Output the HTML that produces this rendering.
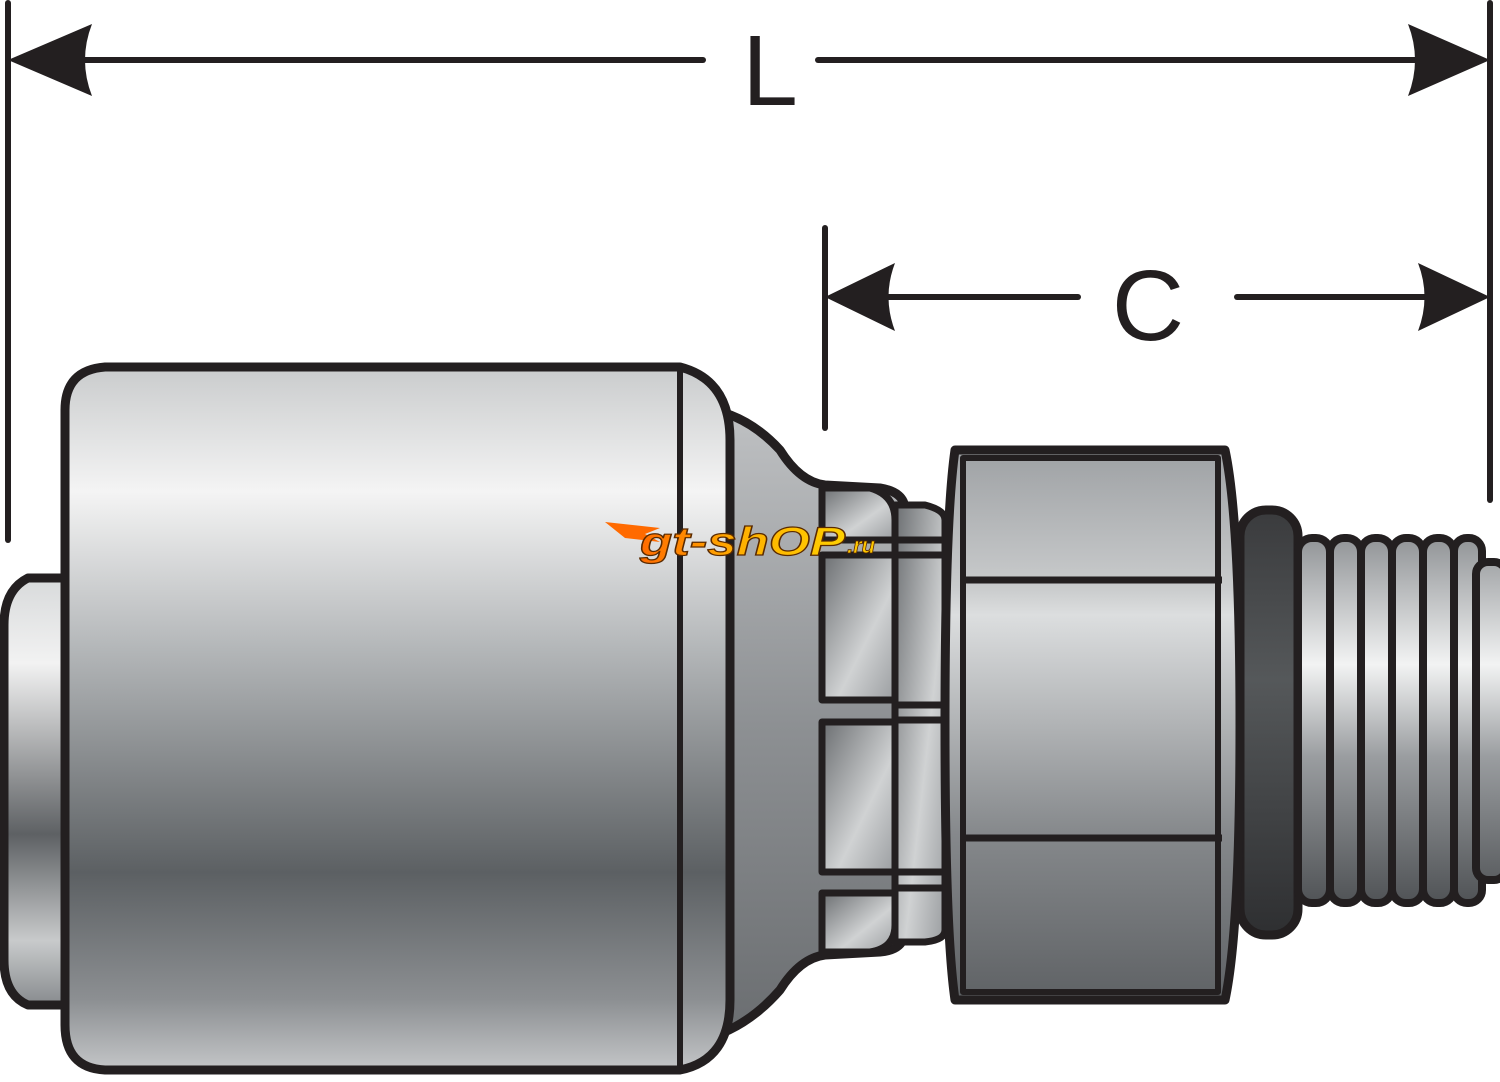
<!DOCTYPE html>
<html><head><meta charset="utf-8"><style>
html,body{margin:0;padding:0;background:#fff;}
svg{display:block;}
</style></head><body>
<svg width="1500" height="1082" viewBox="0 0 1500 1082" xmlns="http://www.w3.org/2000/svg">
<defs>
<linearGradient id="gBody" gradientUnits="userSpaceOnUse" x1="0" y1="365" x2="0" y2="1070">
<stop offset="0" stop-color="#c9cbcc"/><stop offset="0.18" stop-color="#f4f4f4"/><stop offset="0.4" stop-color="#b4b7b9"/><stop offset="0.72" stop-color="#5c6063"/><stop offset="0.9" stop-color="#8c8f92"/><stop offset="1" stop-color="#c4c6c8"/>
</linearGradient>
<linearGradient id="gStub" gradientUnits="userSpaceOnUse" x1="0" y1="578" x2="0" y2="1005">
<stop offset="0" stop-color="#d8dadb"/><stop offset="0.2" stop-color="#f2f2f2"/><stop offset="0.6" stop-color="#5e6164"/><stop offset="0.85" stop-color="#c8cacb"/><stop offset="1" stop-color="#888b8e"/>
</linearGradient>
<linearGradient id="gCone" gradientUnits="userSpaceOnUse" x1="0" y1="410" x2="0" y2="1040">
<stop offset="0" stop-color="#bfc1c3"/><stop offset="0.5" stop-color="#8d9093"/><stop offset="1" stop-color="#6a6d70"/>
</linearGradient>
<linearGradient id="gSeg" x1="0" y1="0" x2="1" y2="1">
<stop offset="0" stop-color="#6b6e71"/><stop offset="0.6" stop-color="#d0d2d3"/><stop offset="1" stop-color="#9a9da0"/>
</linearGradient>
<linearGradient id="gHex" gradientUnits="userSpaceOnUse" x1="0" y1="450" x2="0" y2="1000">
<stop offset="0" stop-color="#9ea1a4"/><stop offset="0.25" stop-color="#c9cbcc"/><stop offset="0.3" stop-color="#dcdedf"/><stop offset="0.7" stop-color="#85888b"/><stop offset="1" stop-color="#5f6265"/>
</linearGradient>
<linearGradient id="gRing" gradientUnits="userSpaceOnUse" x1="0" y1="510" x2="0" y2="935">
<stop offset="0" stop-color="#3a3b3d"/><stop offset="0.4" stop-color="#55585a"/><stop offset="1" stop-color="#2e2f31"/>
</linearGradient>
<linearGradient id="gThr" gradientUnits="userSpaceOnUse" x1="0" y1="535" x2="0" y2="905">
<stop offset="0" stop-color="#8f9295"/><stop offset="0.35" stop-color="#f2f3f3"/><stop offset="0.6" stop-color="#9a9da0"/><stop offset="1" stop-color="#4f5255"/>
</linearGradient>
<linearGradient id="wm" x1="0" y1="0" x2="1" y2="0">
<stop offset="0" stop-color="#ff6a00"/><stop offset="0.5" stop-color="#ffb000"/><stop offset="1" stop-color="#ffd000"/>
</linearGradient>
</defs>

<g stroke="#231f20" stroke-width="6" stroke-linecap="round" fill="#231f20">
<line x1="8" y1="3" x2="8" y2="540"/>
<line x1="1490" y1="3" x2="1490" y2="500"/>
<line x1="20" y1="60" x2="703" y2="60"/>
<line x1="818" y1="60" x2="1480" y2="60"/>
<line x1="825" y1="228" x2="825" y2="428"/>
<line x1="835" y1="297" x2="1078" y2="297"/>
<line x1="1237" y1="297" x2="1480" y2="297"/>
</g>
<g fill="#231f20">
<path d="M8 60 L92 24 Q78 60 92 96 Z"/>
<path d="M1490 60 L1408 24 Q1422 60 1408 96 Z"/>
<path d="M825 297 L895 263 Q882 297 895 331 Z"/>
<path d="M1490 297 L1418 263 Q1431 297 1418 331 Z"/>
</g>
<text x="770" y="105" font-family="'Liberation Sans',sans-serif" font-size="100" text-anchor="middle" fill="#231f20">L</text>
<text x="1148" y="340" font-family="'Liberation Sans',sans-serif" font-size="100" text-anchor="middle" fill="#231f20">C</text>

<g stroke="#231f20" stroke-width="9" stroke-linejoin="round">
<path d="M65 578 L28 578 Q4 590 4 625 L4 960 Q4 995 28 1005 L65 1005 Z" fill="url(#gStub)"/>
<path d="M700 408 Q745 412 780 450 Q800 482 825 485 L880 488 Q905 492 905 510 L905 930 Q905 950 880 952 L825 955 Q800 958 780 990 Q745 1030 700 1040 Z" fill="url(#gCone)"/>
<path d="M105 367 L680 367 Q730 380 730 440 L730 1000 Q730 1060 680 1070 L105 1070 Q65 1068 65 1025 L65 410 Q65 370 105 367 Z" fill="url(#gBody)"/>
<line x1="680" y1="370" x2="680" y2="1068" stroke-width="6"/>
<path d="M822 488 L870 488 Q895 495 895 520 L895 540 L822 540 Z" fill="url(#gSeg)" stroke-width="7"/>
<rect x="822" y="555" width="73" height="145" fill="url(#gSeg)" stroke-width="7"/>
<rect x="822" y="722" width="73" height="150" fill="url(#gSeg)" stroke-width="7"/>
<path d="M822 893 L895 893 L895 925 Q895 948 870 952 L822 952 Z" fill="url(#gSeg)" stroke-width="7"/>
<path d="M895 505 L925 505 Q945 510 945 520 L945 930 Q945 940 925 942 L895 942 Z" fill="url(#gSeg)" stroke-width="7"/>
<g stroke-width="7">
<line x1="895" y1="540" x2="945" y2="540"/><line x1="895" y1="555" x2="945" y2="555"/>
<line x1="895" y1="705" x2="945" y2="705"/><line x1="895" y1="720" x2="945" y2="720"/>
<line x1="895" y1="872" x2="945" y2="872"/><line x1="895" y1="888" x2="945" y2="888"/>
</g>
<rect x="1240" y="510" width="58" height="425" rx="26" fill="url(#gRing)"/>
<g fill="url(#gThr)" stroke-width="8">
<rect x="1298" y="538" width="32" height="365" rx="14"/>
<rect x="1330" y="538" width="31" height="365" rx="14"/>
<rect x="1361" y="538" width="31" height="365" rx="14"/>
<rect x="1392" y="538" width="31" height="365" rx="14"/>
<rect x="1423" y="538" width="31" height="365" rx="14"/>
<rect x="1454" y="538" width="28" height="365" rx="13"/>
<rect x="1476" y="562" width="30" height="318" rx="12"/>
</g>
<path d="M955 450 L1225 450 Q1240 520 1240 725 Q1240 930 1225 1000 L955 1000 Q945 930 945 725 Q945 520 955 450 Z" fill="url(#gHex)"/>
<path d="M963 458 L1218 458 L1218 992 L963 992 Z" fill="none" stroke-width="6"/>
<line x1="960" y1="580" x2="1222" y2="580" stroke-width="7"/>
<line x1="960" y1="838" x2="1222" y2="838" stroke-width="7"/>
</g>

<path d="M605 522 L660 528 L645 534 L660 542 L625 538 Z" fill="#ff6a00"/>
<text x="640" y="555" font-family="'Liberation Sans',sans-serif" font-weight="bold" font-style="italic" font-size="40" fill="url(#wm)" stroke="#5a2a00" stroke-width="1.2" textLength="205" lengthAdjust="spacingAndGlyphs">gt-shOP</text>
<text x="847" y="553" font-family="'Liberation Sans',sans-serif" font-weight="bold" font-style="italic" font-size="22" fill="#ffc800" stroke="#5a2a00" stroke-width="0.8">.ru</text>
</svg>
</body></html>
